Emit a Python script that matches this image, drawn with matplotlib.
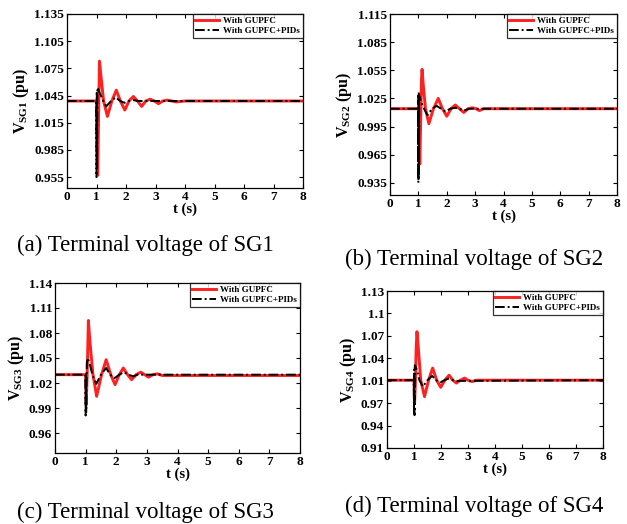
import matplotlib
matplotlib.use("Agg")
import matplotlib.pyplot as plt
import numpy as np

plt.rcParams['font.family'] = ['Liberation Serif', 'DejaVu Serif']
plt.rcParams['mathtext.fontset'] = 'custom'
plt.rcParams['mathtext.rm'] = 'Liberation Serif'
plt.rcParams['mathtext.bf'] = 'Liberation Serif:bold'

# ---------------- data ----------------
t_r1 = [0, 1.0, 1.01, 1.04, 1.07, 1.10, 1.14, 1.24, 1.37, 1.52, 1.67, 1.81, 1.96, 2.10, 2.25, 2.39, 2.53, 2.67, 2.82, 2.96, 3.10, 3.25, 3.40, 3.55, 3.70, 4.0, 8.0]
v_r1 = [1.039, 1.039, 1.00, 0.957, 1.02, 1.083, 1.07, 1.039, 1.022, 1.039, 1.051, 1.039, 1.029, 1.039, 1.044, 1.039, 1.033, 1.039, 1.041, 1.039, 1.036, 1.039, 1.040, 1.039, 1.038, 1.039, 1.039]
t_b1 = [0, 0.99, 1.0, 1.01, 1.02, 1.03, 1.05, 1.08, 1.15, 1.23, 1.33, 1.49, 1.65, 1.80, 1.95, 2.1, 2.25, 2.4, 2.6, 8]
v_b1 = [1.039, 1.039, 0.955, 1.05, 0.965, 1.052, 1.054, 1.05, 1.045, 1.039, 1.033, 1.039, 1.043, 1.039, 1.037, 1.039, 1.040, 1.039, 1.039, 1.039]

t_r2 = [0, 1.0, 1.02, 1.05, 1.08, 1.11, 1.13, 1.17, 1.25, 1.37, 1.53, 1.7, 1.85, 2.0, 2.15, 2.3, 2.45, 2.6, 2.75, 2.9, 3.03, 3.15, 3.3, 8]
v_r2 = [1.014, 1.014, 0.99, 0.955, 1.00, 1.045, 1.056, 1.04, 1.014, 0.998, 1.014, 1.025, 1.014, 1.006, 1.014, 1.018, 1.014, 1.010, 1.014, 1.015, 1.014, 1.012, 1.014, 1.014]
t_b2 = [0, 0.99, 1.0, 1.005, 1.01, 1.015, 1.02, 1.03, 1.1, 1.2, 1.32, 1.48, 1.65, 1.8, 1.95, 2.12, 2.3, 2.45, 2.6, 2.8, 8]
v_b2 = [1.014, 1.014, 0.935, 1.03, 0.94, 1.032, 0.95, 1.028, 1.021, 1.014, 1.007, 1.014, 1.017, 1.014, 1.011, 1.014, 1.015, 1.014, 1.012, 1.014, 1.014]

t_r3 = [0, 1.0, 1.02, 1.05, 1.09, 1.14, 1.24, 1.36, 1.52, 1.67, 1.82, 1.96, 2.1, 2.23, 2.37, 2.5, 2.65, 2.8, 2.93, 3.05, 3.2, 3.35, 3.5, 3.7, 8]
v_r3 = [1.030, 1.030, 0.994, 1.03, 1.095, 1.07, 1.03, 1.004, 1.03, 1.048, 1.03, 1.018, 1.03, 1.038, 1.03, 1.024, 1.03, 1.033, 1.03, 1.027, 1.03, 1.031, 1.029, 1.029, 1.029]
t_b3 = [0, 0.99, 1.0, 1.01, 1.02, 1.04, 1.07, 1.12, 1.22, 1.35, 1.5, 1.67, 1.8, 1.95, 2.1, 2.25, 2.4, 2.55, 2.7, 8]
v_b3 = [1.03, 1.03, 0.981, 1.03, 0.985, 1.045, 1.05, 1.045, 1.03, 1.019, 1.03, 1.038, 1.03, 1.026, 1.03, 1.033, 1.03, 1.028, 1.03, 1.03]

t_r4 = [0, 1.0, 1.02, 1.05, 1.08, 1.11, 1.15, 1.25, 1.39, 1.54, 1.69, 1.84, 1.99, 2.14, 2.3, 2.44, 2.57, 2.72, 2.87, 3.0, 3.15, 3.3, 8]
v_r4 = [1.005, 1.005, 0.972, 1.0, 1.05, 1.073, 1.055, 1.005, 0.982, 1.005, 1.022, 1.005, 0.995, 1.005, 1.012, 1.005, 1.001, 1.005, 1.008, 1.005, 1.003, 1.005, 1.005]
t_b4 = [0, 0.99, 1.0, 1.01, 1.02, 1.03, 1.06, 1.12, 1.2, 1.33, 1.5, 1.67, 1.82, 1.97, 2.13, 2.3, 2.45, 2.6, 8]
v_b4 = [1.005, 1.005, 0.96, 1.02, 0.956, 1.026, 1.024, 1.018, 1.005, 0.996, 1.005, 1.011, 1.005, 1.002, 1.005, 1.0075, 1.005, 1.004, 1.005]

yt1 = [0.955, 0.985, 1.015, 1.045, 1.075, 1.105, 1.135]
yl1 = ['0.955', '0.985', '1.015', '1.045', '1.075', '1.105', '1.135']
yt2 = [0.935, 0.965, 0.995, 1.025, 1.055, 1.085, 1.115]
yl2 = ['0.935', '0.965', '0.995', '1.025', '1.055', '1.085', '1.115']
yt3 = [0.96, 0.99, 1.02, 1.05, 1.08, 1.11, 1.14]
yl3 = ['0.96', '0.99', '1.02', '1.05', '1.08', '1.11', '1.14']
yt4 = list(np.linspace(0.91, 1.13, 8))
yl4 = ['0.91', '0.94', '0.97', '1.01', '1.04', '1.07', '1.1', '1.13']

xticks = [0, 1, 2, 3, 4, 5, 6, 7, 8]
captions = ['(a) Terminal voltage of SG1', '(b) Terminal voltage of SG2',
            '(c) Terminal voltage of SG3', '(d) Terminal voltage of SG4']
ylabels = [r'$\mathbf{V_{SG1}}$ (pu)', r'$\mathbf{V_{SG2}}$ (pu)',
           r'$\mathbf{V_{SG3}}$ (pu)', r'$\mathbf{V_{SG4}}$ (pu)']
legend_labels = ['With GUPFC', 'With GUPFC+PIDs']

# ---------------- layout ----------------
W, H = 627, 524
fig = plt.figure(figsize=(W / 100, H / 100), dpi=100)

def rect(l, r, t, b):
    return [l / W, 1 - b / H, (r - l) / W, (b - t) / H]

panels = [
    dict(rect=rect(67, 303, 14, 188), ylim=(0.943, 1.135), yt=yt1, yl=yl1,
         tr=t_r1, vr=v_r1, tb=t_b1, vb=v_b1, cap=(17, 245)),
    dict(rect=rect(390, 617, 14, 195), ylim=(0.922, 1.115), yt=yt2, yl=yl2,
         tr=t_r2, vr=v_r2, tb=t_b2, vb=v_b2, cap=(345, 259)),
    dict(rect=rect(55, 300, 283, 453), ylim=(0.936, 1.14), yt=yt3, yl=yl3,
         tr=t_r3, vr=v_r3, tb=t_b3, vb=v_b3, cap=(17, 512)),
    dict(rect=rect(387, 603, 291, 448), ylim=(0.91, 1.13), yt=yt4, yl=yl4,
         tr=t_r4, vr=v_r4, tb=t_b4, vb=v_b4, cap=(345, 506)),
]

for i, p in enumerate(panels):
    ax = fig.add_axes(p['rect'])
    ax.plot(p['tr'], p['vr'], color='#ff2020', lw=2.1, label=legend_labels[0])
    ax.plot(p['tb'], p['vb'], color='black', lw=1.4, ls=(0, (5, 1.5, 1, 1.5)),
            label=legend_labels[1])
    ax.set_xlim(0, 8)
    ax.set_ylim(*p['ylim'])
    ax.set_xticks(xticks)
    ax.set_xticklabels([str(x) for x in xticks], fontweight='bold', fontsize=9.5)
    ax.set_yticks(p['yt'])
    ax.set_yticklabels(p['yl'], fontweight='bold', fontsize=9.5)
    ax.tick_params(direction='in', top=True, right=True, length=3, width=0.8, pad=2)
    for s in ax.spines.values():
        s.set_linewidth(0.9)
    ax.set_xlabel('t (s)', fontweight='bold', fontsize=10.5, labelpad=0)
    ax.set_ylabel(ylabels[i], fontweight='bold', fontsize=11.5, labelpad=2)
    leg = ax.legend(loc='upper right', frameon=True, fancybox=False,
                    borderpad=0.3, handlelength=2.6, handletextpad=0.5,
                    labelspacing=0.2, borderaxespad=0.0,
                    prop={'weight': 'bold', 'size': 6.5})
    leg.get_frame().set_edgecolor('black')
    leg.get_frame().set_linewidth(0.9)
    fig.text(p['cap'][0] / W, 1 - p['cap'][1] / H, captions[i], fontsize=16.5,
             ha='left', va='center')

fig.savefig('out.png', dpi=100)
